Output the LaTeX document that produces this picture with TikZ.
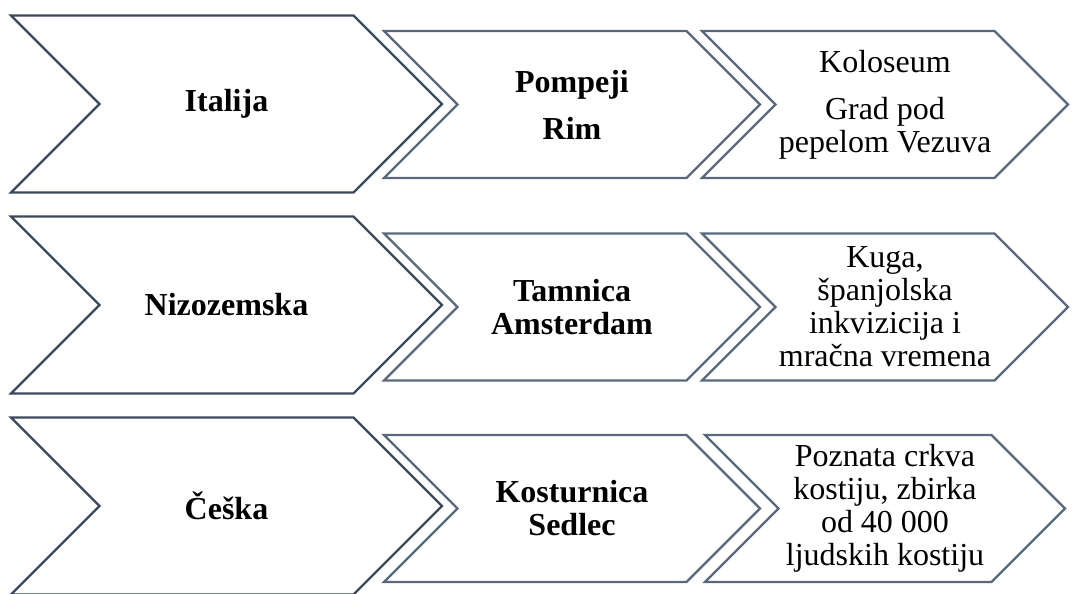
\documentclass[tikz,border=0pt]{standalone}
\usepackage{fontspec}
\setmainfont{Liberation Serif}
\usetikzlibrary{shapes.symbols}
\definecolor{edge1}{RGB}{60, 73, 90}
\definecolor{edge2}{RGB}{90, 104, 124}
\tikzstyle{bigarrow} = [
	signal,
	signal from=west,
	signal to=east,
	signal pointer angle=90,
	draw=edge1,
	fill=white,
	line width=2.2pt,
	minimum width=431pt,
	minimum height=177pt,
	align=center,
	font=\fontsize{32}{33}\selectfont\bfseries
]
\tikzstyle{midarrow} = [
	signal,
	signal from=west,
	signal to=east,
	signal pointer angle=90,
	draw=edge2,
	fill=white,
	line width=2.2pt,
	minimum width=376pt,
	minimum height=147pt,
	align=center,
	font=\fontsize{32}{33}\selectfont\bfseries
]
\tikzstyle{smallarrow} = [
	signal,
	signal from=west,
	signal to=east,
	signal pointer angle=90,
	draw=edge2,
	fill=white,
	line width=2.2pt,
	minimum width=360pt,
	minimum height=147pt,
	align=center,
	font=\fontsize{32}{33}\selectfont
]

\begin{document}
\begin{tikzpicture}[x=1pt, y=1pt]
	\useasboundingbox (0,0) rectangle (1073,594);

	% Italija
	\node[bigarrow] (IT) at (226.5,490) {Italija};
	\node[midarrow] (IT2) at (572,489.5) {Pompeji\\[14pt]Rim};
	\node[smallarrow] (IT3) at (885,489.5) {Koloseum\\[14pt]Grad pod\\pepelom Vezuva};

	% Nizozemska
	\node[bigarrow] (NL) at (226.5,289) {Nizozemska};
	\node[midarrow] (NL2) at (572,287) {Tamnica\\Amsterdam};
	\node[smallarrow] (NL3) at (885,287) {Kuga,\\španjolska\\inkvizicija i\\mračna vremena};

	% Češka
	\node[bigarrow] (CZ) at (226.5,88) {Češka};
	\node[midarrow] (CZ2) at (572,85.5) {Kosturnica\\Sedlec};
	\node[smallarrow] (CZ3) at (885,85.5) {Poznata crkva\\kostiju, zbirka\\od 40 000\\ljudskih kostiju};

\end{tikzpicture}
\end{document}
